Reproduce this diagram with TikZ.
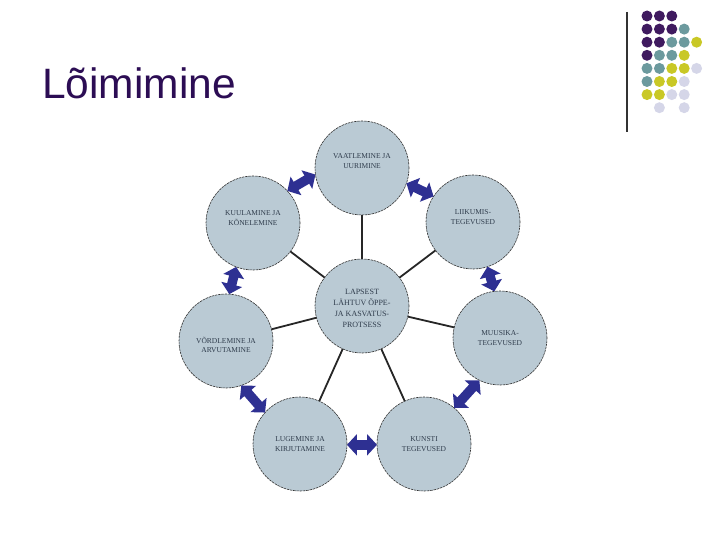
\documentclass[tikz,border=0pt]{standalone}
\usepackage{fontspec}
\setmainfont{Liberation Serif}
\newfontfamily\titlefont{Liberation Sans}
\usepackage{xcolor}
\usetikzlibrary{arrows.meta}
\definecolor{bubblefill}{HTML}{BACAD4}
\definecolor{bubbletext}{HTML}{2F3C4C}
\definecolor{arrowblue}{HTML}{2E3092}
\definecolor{titlepurple}{HTML}{2C0D54}
\definecolor{dotpurple}{HTML}{3F1A5F}
\definecolor{dotteal}{HTML}{6C9A9E}
\definecolor{dotyellow}{HTML}{C9C826}
\definecolor{dotlilac}{HTML}{D5D6E8}

\begin{document}
\begin{tikzpicture}[x=1pt, y=-1pt,
   bubble/.style={circle, minimum size=94pt, inner sep=0pt, outer sep=0pt, fill=bubblefill,
     draw=black!80, line width=0.6pt, dash pattern=on 2.5pt off 0.8pt},
   lbl/.style={align=center, text=bubbletext, inner sep=0pt, font=\fontsize{7.5}{9.5}\selectfont},
   spoke/.style={draw=black!85, line width=1.8pt},
   link/.style={draw=arrowblue, line width=9.5pt,
     {Triangle[length=10pt,width=21pt]}-{Triangle[length=10pt,width=21pt]}},
   dot/.style={circle, fill=#1, inner sep=0pt, minimum size=11pt}]
  \useasboundingbox (0,0) rectangle (720,540);

  % title and logo
  \node[anchor=base west, inner sep=0pt, text=titlepurple,
     font=\titlefont\fontsize{42.5}{42.5}\selectfont] (title) at (42,99) {Lõimimine};
  \draw[line width=1.3pt, black!80] (627,12) -- (627,132);
  \foreach \c/\r/\col in {1/1/dotpurple, 2/1/dotpurple, 3/1/dotpurple,
      1/2/dotpurple, 2/2/dotpurple, 3/2/dotpurple, 4/2/dotteal,
      1/3/dotpurple, 2/3/dotpurple, 3/3/dotteal, 4/3/dotteal, 5/3/dotyellow,
      1/4/dotpurple, 2/4/dotteal, 3/4/dotteal, 4/4/dotyellow,
      1/5/dotteal, 2/5/dotteal, 3/5/dotyellow, 4/5/dotyellow, 5/5/dotlilac,
      1/6/dotteal, 2/6/dotyellow, 3/6/dotyellow, 4/6/dotlilac,
      1/7/dotyellow, 2/7/dotyellow, 3/7/dotlilac, 4/7/dotlilac,
      2/8/dotlilac, 4/8/dotlilac}
    \node[dot=\col] (dot\c\r) at ({634.6+12.4*\c}, {2.9+13.1*\r}) {};

  % circles
  \node[bubble, label={[lbl, yshift=7pt]center:{VAATLEMINE JA\\UURIMINE}}] (vaatl) at (362,168) {};
  \node[bubble, label={[lbl, yshift=5pt]center:{KUULAMINE JA\\KÕNELEMINE}}] (kuul) at (253,223) {};
  \node[bubble, label={[lbl, yshift=5pt]center:{LIIKUMIS-\\TEGEVUSED}}] (liik) at (473,222) {};
  \node[bubble, label={[lbl, font=\fontsize{8}{11}\selectfont, yshift=-2pt]center:{LAPSEST\\LÄHTUV ÕPPE-\\JA KASVATUS-\\PROTSESS}}] (laps) at (362,306) {};
  \node[bubble, label={[lbl, yshift=-4pt]center:{VÕRDLEMINE JA\\ARVUTAMINE}}] (vord) at (226,341) {};
  \node[bubble, label={[lbl]center:{MUUSIKA-\\TEGEVUSED}}] (muus) at (500,338) {};
  \node[bubble, label={[lbl]center:{LUGEMINE JA\\KIRJUTAMINE}}] (luge) at (300,444) {};
  \node[bubble, label={[lbl]center:{KUNSTI\\TEGEVUSED}}] (kuns) at (424,444) {};

  % spokes from the centre
  \foreach \n in {vaatl, kuul, liik, vord, muus, luge, kuns}
    \draw[spoke] (laps) -- (\n);

  % links between neighbours
  \draw[link] (vaatl.188) -- (kuul.43);
  \draw[link] (vaatl.341) -- (liik.147);
  \draw[link] (kuul.249) -- (vord.86);
  \draw[link] (liik.288) -- (muus.97);
  \draw[link] (vord.289) -- (luge.138);
  \draw[link] (muus.244) -- (kuns.50);
  \draw[link] (luge.359) -- (kuns.181);
\end{tikzpicture}
\end{document}
